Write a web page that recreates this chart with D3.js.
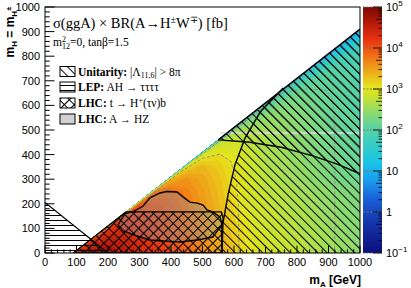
<!DOCTYPE html>
<html>
<head>
<meta charset="utf-8">
<script src="https://cdn.jsdelivr.net/npm/d3@7"></script>
<style>
  body { margin: 0; background: #fff; }
  svg { display: block; }
  text { font-family: "Liberation Sans", Arial, sans-serif; fill: #000; }
  .serif { font-family: "Liberation Serif", "Times New Roman", serif; }
</style>
</head>
<body>
<svg id="chart" width="411" height="288"></svg>
<script>
// grid of the cross section, log10(sigma x BR / fb)
// each row is one m_H value and runs from m_A = m_H + 100 up to m_A = 1000
let mAGrid = [100, 150, 200, 250, 300, 350, 400, 450, 500, 550, 600, 650, 700, 750, 800, 850, 900, 950, 1000];
let mHGrid = [0, 50, 100, 150, 200, 250, 300, 350, 400, 450, 500, 550, 600, 650, 700, 750, 800, 850, 900, 950];
let xsecRows = [
  [4.3, 4.65, 4.7, 4.55, 4.35, 4.2, 4.05, 3.85, 3.65, 3.45, 3.25, 3.05, 2.92, 2.83, 2.75, 2.67, 2.58, 2.5, 2.43],
  [4.3, 4.55, 4.5, 4.32, 4.17, 4.02, 3.82, 3.62, 3.42, 3.22, 3.02, 2.89, 2.8, 2.72, 2.64, 2.55, 2.47, 2.4],
  [4.24, 4.34, 4.26, 4.14, 3.99, 3.79, 3.59, 3.39, 3.19, 2.99, 2.86, 2.77, 2.69, 2.61, 2.52, 2.44, 2.37],
  [4.11, 4.16, 4.08, 3.96, 3.76, 3.56, 3.36, 3.16, 2.96, 2.83, 2.74, 2.66, 2.58, 2.49, 2.41, 2.34],
  [3.93, 3.98, 3.90, 3.73, 3.53, 3.33, 3.13, 2.93, 2.8, 2.71, 2.63, 2.55, 2.46, 2.38, 2.31],
  [3.75, 3.85, 3.67, 3.50, 3.30, 3.10, 2.90, 2.77, 2.68, 2.6, 2.52, 2.43, 2.35, 2.28],
  [3.37, 3.57, 3.44, 3.27, 3.07, 2.87, 2.72, 2.62, 2.52, 2.42, 2.32, 2.24, 2.17],
  [3.14, 3.34, 3.21, 3.04, 2.84, 2.69, 2.59, 2.49, 2.39, 2.29, 2.21, 2.14],
  [2.91, 3.11, 2.98, 2.81, 2.66, 2.56, 2.46, 2.36, 2.26, 2.18, 2.11],
  [2.68, 2.88, 2.75, 2.63, 2.53, 2.43, 2.33, 2.23, 2.15, 2.08],
  [2.45, 2.65, 2.57, 2.50, 2.40, 2.30, 2.20, 2.12, 2.05],
  [2.22, 2.47, 2.44, 2.37, 2.27, 2.17, 2.09, 2.02],
  [2.04, 2.34, 2.31, 2.24, 2.14, 2.06, 1.99],
  [1.91, 2.21, 2.18, 2.11, 2.03, 1.96],
  [1.7, 2.08, 2.05, 2.00, 1.93],
  [1.5, 1.95, 1.94, 1.90],
  [1.3, 1.8, 1.84],
  [1.15, 1.65],
  [1.0],
  []
];

// kinematic limit m_A = m_H + m_W (roughly)
let kinEdge = [[90, 0], [1000, 910]];

// iso-lines of the cross section (gray dashed), in GeV
let iso1e4 = [[170, 72], [250, 152], [330, 232], [365, 262], [385, 262], [398, 240], [403, 190], [404, 100], [404, 0]];
let iso1e3 = [[330, 232], [430, 330], [500, 385], [556, 402], [590, 372], [607, 300], [614, 200], [616, 0]];
let iso1e2 = [[520, 422], [620, 518], [700, 598], [756, 652], [830, 667], [893, 662], [912, 628], [918, 560], [920, 400], [920, 0]];
let iso1e1 = [[480, 382], [600, 502], [750, 652], [900, 802], [1000, 902]];
let stepLine = [[556, 488], [1000, 488]];

// exclusions
let lepRegion = [[0, 0], [0, 205], [200, 0]];
let lepBoundary = [[0, 205], [200, 0]];
let lhcTopRegion = [[90, 0], [257, 167], [560, 167], [566, 140], [560, 105], [562, 0]];
let lhcHZRegion = [[232, 114], [254, 160], [280, 168], [311, 190], [333, 224], [365, 244], [387, 250], [419, 248],
  [438, 228], [460, 207], [483, 203], [502, 195], [514, 175], [533, 167], [556, 146], [562, 114], [550, 95],
  [533, 65], [483, 53], [429, 45], [375, 49], [333, 53], [290, 70], [250, 90]];
let unitarityArc = [[562, 0], [565, 122], [581, 236], [603, 358], [635, 467], [683, 573], [756, 671]];
let unitarityRegion1 = [[562, 0], [565, 122], [581, 236], [603, 358], [635, 467], [683, 573], [756, 671], [1000, 910], [1000, 0]];
let unitarityLine = [[550, 460], [650, 450], [750, 430], [850, 395], [930, 360], [1000, 322]];
let unitarityRegion2 = [[550, 460], [650, 450], [750, 430], [850, 395], [930, 360], [1000, 322], [1000, 910]];

// color bar
let zDecades = [-1, 0, 1, 2, 3, 4, 5];
let paletteStops = [-1, -0.3, 0.3, 0.8, 1.2, 1.7, 2.1, 2.5, 2.8, 3.05, 3.3, 3.6, 3.9, 4.2, 4.6, 5];
let paletteColors = ['#0a0f7a', '#1432a8', '#1a5ed8', '#1aa0ee', '#18c4e8', '#3acdc0', '#60d49a', '#98dc64',
  '#c8e430', '#e6e41c', '#ecbc1a', '#f09018', '#f26014', '#e83410', '#b81a0a', '#7a0a04'];

let svg = d3.select('#chart');
let x = d3.scaleLinear().domain([0, 1000]).range([45, 360]);
let y = d3.scaleLinear().domain([0, 1000]).range([253, 7]);
let z = d3.scaleLinear().domain([-1, 5]).range([253, 7]);
let color = d3.scaleLinear().domain(paletteStops).range(paletteColors).clamp(true);
let line = d3.line().x(d => x(d[0])).y(d => y(d[1]));
let poly = pts => line(pts) + 'Z';

let defs = svg.append('defs');
defs.append('clipPath').attr('id', 'frame')
  .append('rect').attr('x', 45).attr('y', 7).attr('width', 315).attr('height', 246);
defs.append('clipPath').attr('id', 'allowed')
  .append('path').attr('d', poly([kinEdge[0], kinEdge[1], [1000, 0]]));

function hatch(id, size, angle, both) {
  let p = defs.append('pattern').attr('id', id)
    .attr('patternUnits', 'userSpaceOnUse')
    .attr('width', size).attr('height', size)
    .attr('patternTransform', 'rotate(' + angle + ')');
  p.append('line').attr('x1', 0.5).attr('y1', 0).attr('x2', 0.5).attr('y2', size)
    .attr('stroke', '#000').attr('stroke-width', 1);
  if (both) {
    p.append('line').attr('x1', 0).attr('y1', 0.5).attr('x2', size).attr('y2', 0.5)
      .attr('stroke', '#000').attr('stroke-width', 1);
  }
}
hatch('diag', 6.5, -45, false);
hatch('cross', 7, 45, true);
let hp = defs.append('pattern').attr('id', 'horiz')
  .attr('patternUnits', 'userSpaceOnUse').attr('width', 10).attr('height', 5);
hp.append('line').attr('x1', 0).attr('y1', 0.5).attr('x2', 10).attr('y2', 0.5)
  .attr('stroke', '#000').attr('stroke-width', 1);

// heat map: filled contours of the grid
let outside = -2.5;
let nx = mAGrid.length, ny = mHGrid.length;
let values = [];
xsecRows.forEach(function (row) {
  for (let i = 0; i < nx; i++) {
    let k = i - (nx - row.length);
    values.push(k >= 0 ? row[k] : outside);
  }
});
let gridStep = mAGrid[1] - mAGrid[0];
let toPlot = d3.geoTransform({
  point: function (cx, cy) {
    this.stream.point(x(mAGrid[0] + (cx - 0.5) * gridStep), y(mHGrid[0] + (cy - 0.5) * gridStep));
  }
});
let geoPath = d3.geoPath(toPlot);
let levels = d3.range(-1, 5, 0.08);
let bands = d3.contours().size([nx, ny]).thresholds(levels)(values);

let plot = svg.append('g').attr('clip-path', 'url(#frame)');
plot.append('g').attr('clip-path', 'url(#allowed)')
  .selectAll('path').data(bands).enter().append('path')
  .attr('d', geoPath)
  .attr('fill', d => color(d.value + 0.04))
  .attr('stroke', d => color(d.value + 0.04))
  .attr('stroke-width', 0.3);

// iso-lines
plot.append('path').attr('d', line(stepLine))
  .attr('fill', 'none').attr('stroke', '#dcdcdc').attr('stroke-width', 1.5);
[iso1e4, iso1e3, iso1e2, iso1e1].forEach(function (pts) {
  plot.append('path').attr('d', line(pts)).attr('fill', 'none')
    .attr('stroke', '#8e8e8e').attr('stroke-width', 1).attr('stroke-dasharray', '3,2');
});

// exclusions
plot.append('path').attr('d', poly(lhcHZRegion))
  .attr('fill', 'rgba(150,150,150,0.42)').attr('stroke', 'none');
plot.append('path').attr('d', poly(lepRegion)).attr('fill', 'url(#horiz)');
plot.append('path').attr('d', poly(lhcTopRegion)).attr('fill', 'url(#cross)');
let uni = plot.append('g').attr('clip-path', 'url(#allowed)');
uni.append('path').attr('d', poly(unitarityRegion1)).attr('fill', 'url(#diag)');
uni.append('path').attr('d', poly(unitarityRegion2)).attr('fill', 'url(#diag)');

let outline = plot.append('g').attr('fill', 'none').attr('stroke', '#000').attr('stroke-width', 1.4);
outline.append('path').attr('d', line(lepBoundary)).attr('stroke-width', 1.2);
outline.append('path').attr('d', poly(lhcHZRegion));
outline.append('path').attr('d', poly(lhcTopRegion));
outline.append('path').attr('d', line(unitarityArc));
outline.append('path').attr('d', line(unitarityLine));
outline.append('path').attr('d', line([unitarityLine[0], kinEdge[1]]));

// frame and axes
svg.append('rect').attr('x', 45).attr('y', 7).attr('width', 315).attr('height', 246)
  .attr('fill', 'none').attr('stroke', '#000').attr('stroke-width', 1);

let axes = svg.append('g').attr('stroke', '#000').attr('stroke-width', 1);
let xMajor = x.ticks(10);
x.ticks(50).forEach(function (t) {
  let len = xMajor.includes(t) ? 7.4 : 3.7;
  axes.append('line').attr('x1', x(t)).attr('x2', x(t)).attr('y1', 253).attr('y2', 253 - len);
});
let yMajor = y.ticks(10);
y.ticks(50).forEach(function (t) {
  let len = yMajor.includes(t) ? 9.5 : 4.7;
  axes.append('line').attr('x1', 45).attr('x2', 45 + len).attr('y1', y(t)).attr('y2', y(t));
});
svg.append('g').selectAll('text').data(xMajor).enter().append('text')
  .attr('x', d => x(d)).attr('y', 266).attr('text-anchor', 'middle')
  .attr('font-size', 11).text(d => d);
svg.append('g').selectAll('text').data(yMajor).enter().append('text')
  .attr('x', 40).attr('y', d => y(d) + 4).attr('text-anchor', 'end')
  .attr('font-size', 11).text(d => d);

let xt = svg.append('text').attr('x', 361).attr('y', 284).attr('text-anchor', 'end')
  .attr('font-size', 12).attr('font-weight', 'bold');
xt.append('tspan').text('m');
xt.append('tspan').attr('font-size', 8).attr('dy', 3).text('A');
xt.append('tspan').attr('dy', -3).text(' [GeV]');

let yt = svg.append('text').attr('transform', 'translate(14,6) rotate(-90)')
  .attr('text-anchor', 'end').attr('font-size', 12).attr('font-weight', 'bold');
yt.append('tspan').text('m');
yt.append('tspan').attr('font-size', 8).attr('dy', 3).text('H');
yt.append('tspan').attr('dy', -3).text(' = m');
yt.append('tspan').attr('font-size', 8).attr('dy', 3).text('H');
yt.append('tspan').attr('font-size', 7).attr('dy', -6).text('\u00b1');
yt.append('tspan').attr('dy', 3).text('\u200a');

// color bar
let grad = defs.append('linearGradient').attr('id', 'zgrad')
  .attr('x1', 0).attr('y1', 1).attr('x2', 0).attr('y2', 0);
paletteStops.forEach(function (s, i) {
  grad.append('stop').attr('offset', (s + 1) / 6).attr('stop-color', paletteColors[i]);
});
svg.append('rect').attr('x', 363).attr('y', 7).attr('width', 19).attr('height', 246)
  .attr('fill', 'url(#zgrad)');
let zt = svg.append('g');
zDecades.forEach(function (d) {
  zt.append('line').attr('x1', 363).attr('x2', 382).attr('y1', z(d)).attr('y2', z(d))
    .attr('stroke', '#777').attr('stroke-width', 1).attr('stroke-dasharray', '2,1.5');
  if (d < 5) {
    [2, 3, 4, 5, 6, 7, 8, 9].forEach(function (m) {
      let yy = z(d + Math.log10(m));
      zt.append('line').attr('x1', 382).attr('x2', m === 5 ? 376 : 378.5)
        .attr('y1', yy).attr('y2', yy).attr('stroke', '#000').attr('stroke-width', 0.8);
    });
  }
  zt.append('line').attr('x1', 382).attr('x2', 373).attr('y1', z(d)).attr('y2', z(d))
    .attr('stroke', '#000').attr('stroke-width', 0.8);
  let lab = zt.append('text').attr('x', 386).attr('y', z(d) + 4).attr('font-size', 11);
  if (d === 0) lab.text('1');
  else if (d === 1) lab.text('10');
  else {
    lab.append('tspan').text('10');
    lab.append('tspan').attr('font-size', 8).attr('dy', -5).text(d < 0 ? '\u22121' : d);
  }
});

// legend
let leg = svg.append('g').attr('class', 'serif');
let tt = leg.append('text').attr('class', 'serif').attr('x', 53).attr('y', 28).attr('font-size', 14.5);
tt.append('tspan').text('\u03c3(ggA) \u00d7 BR(A\u2192H');
tt.append('tspan').attr('font-size', 10).attr('dy', -5).text('\u00b1');
tt.append('tspan').attr('dy', 5).text('W');
tt.append('tspan').attr('font-size', 10).attr('dy', -5).text('\u2213');
tt.append('tspan').attr('dy', 5).text(') [fb]');

let t2 = leg.append('text').attr('class', 'serif').attr('x', 53).attr('y', 46).attr('font-size', 11.5);
t2.append('tspan').text('m');
t2.append('tspan').attr('font-size', 8).attr('dy', -4.5).text('2');
t2.append('tspan').attr('font-size', 8).attr('dx', -4).attr('dy', 7.5).text('12');
t2.append('tspan').attr('dy', -3).text('=0, tan\u03b2=1.5');

let legendRows = [
  { fill: 'url(#diag)', y: 71.5 },
  { fill: 'url(#horiz)', y: 87 },
  { fill: 'url(#cross)', y: 103 },
  { fill: '#d2d2d2', y: 119 }
];
legendRows.forEach(function (r) {
  leg.append('rect').attr('x', 60).attr('y', r.y - 5).attr('width', 15).attr('height', 10)
    .attr('fill', r.fill).attr('stroke', '#000').attr('stroke-width', 1);
});
let lfs = 11.5;
let l1 = leg.append('text').attr('class', 'serif').attr('x', 78).attr('y', 75.5).attr('font-size', lfs);
l1.append('tspan').attr('font-weight', 'bold').text('Unitarity:');
l1.append('tspan').text(' |\u039b');
l1.append('tspan').attr('font-size', 8).attr('dy', 2.5).text('11,6');
l1.append('tspan').attr('dy', -2.5).text('| > 8\u03c0');
let l2 = leg.append('text').attr('class', 'serif').attr('x', 78).attr('y', 91).attr('font-size', lfs);
l2.append('tspan').attr('font-weight', 'bold').text('LEP:');
l2.append('tspan').text(' AH \u2192 \u03c4\u03c4\u03c4\u03c4');
let l3 = leg.append('text').attr('class', 'serif').attr('x', 78).attr('y', 107).attr('font-size', lfs);
l3.append('tspan').attr('font-weight', 'bold').text('LHC:');
l3.append('tspan').text(' t \u2192 H');
l3.append('tspan').attr('font-size', 8).attr('dy', -4.5).text('+');
l3.append('tspan').attr('dy', 4.5).text('(\u03c4\u03bd)b');
let l4 = leg.append('text').attr('class', 'serif').attr('x', 78).attr('y', 123).attr('font-size', lfs);
l4.append('tspan').attr('font-weight', 'bold').text('LHC:');
l4.append('tspan').text(' A \u2192 HZ');
</script>
</body>
</html>
